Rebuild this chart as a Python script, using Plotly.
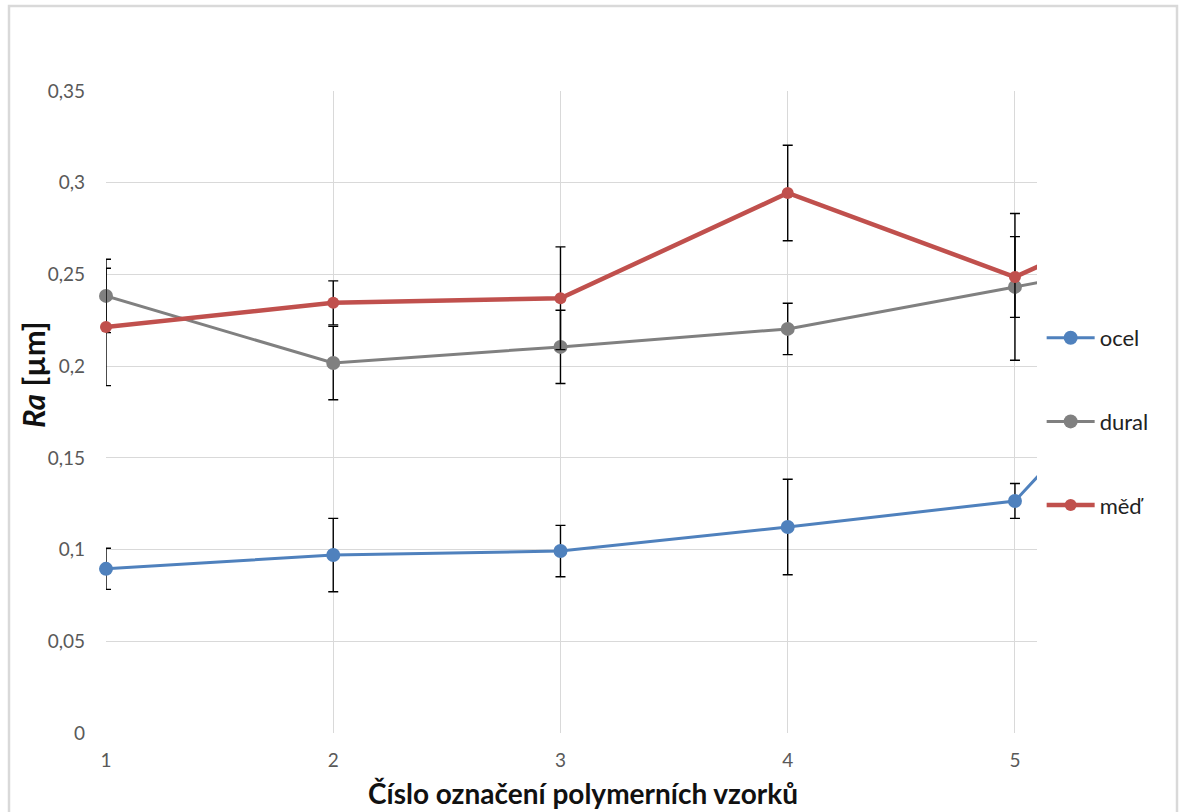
import plotly.graph_objects as go

# ---- data ----
samples = [1, 2, 3, 4, 5, 6]
ocel = [0.0895, 0.097, 0.0992, 0.1123, 0.1265, 0.260]
ocel_err = [0.0112, 0.020, 0.014, 0.026, 0.0095, 0.015]
dural = [0.2383, 0.2017, 0.2105, 0.2203, 0.2432, 0.266]
dural_err = [0.020, 0.020, 0.020, 0.014, 0.040, 0.020]
med = [0.2214, 0.2345, 0.237, 0.2944, 0.2486, 0.305]
med_err = [0.032, 0.012, 0.028, 0.026, 0.022, 0.020]

series_names = ["ocel", "dural", "měď"]
series_colors = ["#4F81BD", "#808080", "#C0504D"]

y_tickvals = [0, 0.05, 0.1, 0.15, 0.2, 0.25, 0.3, 0.35]
y_ticktext = ["0", "0,05", "0,1", "0,15", "0,2", "0,25", "0,3", "0,35"]
x_tickvals = [1, 2, 3, 4, 5]
x_ticktext = ["1", "2", "3", "4", "5"]

x_title = "<b>Číslo označení polymerních vzorků</b>"
y_title = "<b><i>Ra</i> [µm]</b>"

FONT = "Lato"

fig = go.Figure()
ys = [ocel, dural, med]
errs = [ocel_err, dural_err, med_err]
widths = [3, 3, 4.5]
msizes = [14, 14, 12]
for name, col, y, e, w, ms in zip(series_names, series_colors, ys, errs, widths, msizes):
    fig.add_trace(go.Scatter(
        x=samples, y=y, name=name, mode="lines+markers",
        line=dict(color=col, width=w),
        marker=dict(color=col, size=ms),
        error_y=dict(type="data", array=e, visible=True, color="black",
                     thickness=1.4, width=5),
        legendgroup=name,
        cliponaxis=False,
    ))

fig.update_layout(
    width=1179, height=812,
    paper_bgcolor="white", plot_bgcolor="white",
    margin=dict(l=106, r=142, t=91, b=79),
    font=dict(family=FONT, color="#595959"),
    showlegend=True,
    legend=dict(
        x=1.005, y=0.648, xanchor="left", yanchor="top",
        font=dict(size=22, color="#222222", family=FONT),
        tracegroupgap=52,
        traceorder="grouped",
        itemwidth=48,
        bgcolor="rgba(0,0,0,0)",
    ),
    xaxis=dict(
        range=[1, 5.097], tickvals=x_tickvals, ticktext=x_ticktext,
        showgrid=True, gridcolor="#D9D9D9", gridwidth=1,
        zeroline=False, showline=False,
        tickfont=dict(size=19, color="#595959"),
        ticks="", ticklabelstandoff=14,
    ),
    yaxis=dict(
        range=[0, 0.35], tickvals=y_tickvals, ticktext=y_ticktext,
        showgrid=True, gridcolor="#D9D9D9", gridwidth=1,
        zeroline=False, showline=False,
        tickfont=dict(size=19, color="#595959"),
        ticks="", ticklabelstandoff=20,
    ),
    annotations=[
        dict(text=x_title, xref="paper", yref="paper",
             x=(583 - 106) / 931, y=(733 - 793) / 642,
             xanchor="center", yanchor="middle", showarrow=False,
             font=dict(size=28, color="#111111", family=FONT)),
        dict(text=y_title, xref="paper", yref="paper",
             x=(33 - 106) / 931, y=(733 - 375) / 642, textangle=-90,
             xanchor="center", yanchor="middle", showarrow=False,
             font=dict(size=31, color="#111111", family=FONT)),
    ],
    shapes=[dict(
        type="rect", xref="paper", yref="paper",
        x0=(9 - 106) / 931, x1=(1177 - 106) / 931,
        y0=(733 - 830) / 642, y1=(733 - 6) / 642,
        line=dict(color="#D9D9D9", width=2.5), layer="below",
    )],
)

fig.write_html("out.html", config={"displayModeBar": False},
               post_script="document.body.style.margin='0';")
